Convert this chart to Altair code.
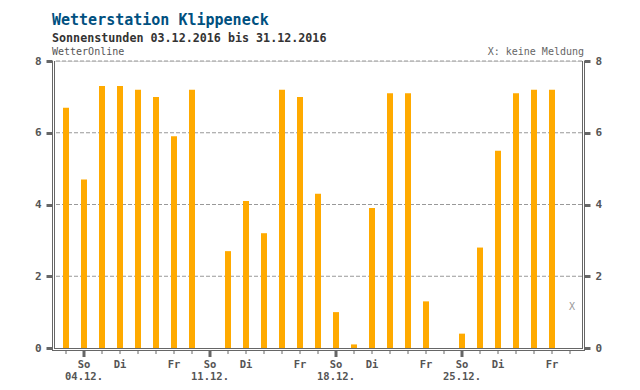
import altair as alt
import pandas as pd

# ---- data ----
days = list(range(3, 32))
sunshine = [6.7, 4.7, 7.3, 7.3, 7.2, 7.0, 5.9, 7.2, 0.0, 2.7, 4.1, 3.2, 7.2, 7.0,
            4.3, 1.0, 0.1, 3.9, 7.1, 7.1, 1.3, 0.0, 0.4, 2.8, 5.5, 7.1, 7.2, 7.2, None]
grid_values = [2, 4, 6, 8]
y_ticks = [0, 2, 4, 6, 8]
weekday_days = [4, 6, 9, 11, 13, 16, 18, 20, 23, 25, 27, 30]
weekday_labels = ["So", "Di", "Fr", "So", "Di", "Fr", "So", "Di", "Fr", "So", "Di", "Fr"]
sunday_days = [4, 11, 18, 25]
sunday_labels = ["04.12.", "11.12.", "18.12.", "25.12."]
missing_days = [31]

title_text = "Wetterstation Klippeneck"
subtitle_text = "Sonnenstunden 03.12.2016 bis 31.12.2016"
source_text = "WetterOnline"
legend_text = "X: keine Meldung"

FONT = "DejaVu Sans Mono"
GRAY = "#666666"
LABEL = "#555555"

W, H = 528, 287

df = pd.DataFrame({"day": days, "sun": sunshine})
df_grid = pd.DataFrame({"v": grid_values})
df_days = pd.DataFrame({"day": days})
df_sun = pd.DataFrame({"day": sunday_days, "lab": sunday_labels})
df_wd = pd.DataFrame({"day": weekday_days, "lab": weekday_labels})
df_miss = pd.DataFrame({"day": missing_days, "t": ["X"] * len(missing_days)})

xscale = alt.Scale(domain=[2 + 1 / 3, 31 + 2 / 3], nice=False, zero=False, padding=0)
yscale = alt.Scale(domain=[0, 8], nice=False, zero=True, padding=0)


def yaxis(orient):
    return alt.Axis(orient=orient, values=y_ticks, offset=2, domain=False,
                    tickSize=6, tickWidth=3, tickColor=GRAY, grid=False,
                    labelFont=FONT, labelFontSize=11, labelFontWeight="bold",
                    labelColor=LABEL, labelPadding=5, title=None)


bars = alt.Chart(df).mark_bar(size=6, color="#FFAA00").encode(
    x=alt.X("day:Q", scale=xscale, axis=None),
    y=alt.Y("sun:Q", scale=yscale, axis=yaxis("left")),
)

grid = alt.Chart(df_grid).mark_rule(color="#999999", strokeDash=[4, 2], strokeWidth=1).encode(
    y=alt.Y("v:Q", scale=yscale, axis=yaxis("right")),
)


def frame_line(x1, x2, y1, y2):
    return alt.Chart(df_grid).mark_rule(color=GRAY, strokeWidth=1).encode(
        x=alt.value(x1), x2=alt.value(x2), y=alt.value(y1), y2=alt.value(y2))


frame = [
    frame_line(-1.5, -1.5, 0, H + 2.5),        # outer left
    frame_line(0.5, 0.5, 0, H + 0.5),          # inner left
    frame_line(W + 0.5, W + 0.5, 0, H + 0.5),  # inner right
    frame_line(W + 2.5, W + 2.5, 0, H + 2.5),  # outer right
    frame_line(0.5, W + 0.5, H + 0.5, H + 0.5),    # inner bottom
    frame_line(-1.5, W + 3, H + 2.5, H + 2.5),     # outer bottom
]

minor_ticks = alt.Chart(df_days).mark_rule(color=GRAY, strokeWidth=1).encode(
    x=alt.X("day:Q", scale=xscale, axis=None),
    y=alt.value(H + 3), y2=alt.value(H + 6),
)
major_ticks = alt.Chart(df_sun).mark_rule(color=GRAY, strokeWidth=3).encode(
    x=alt.X("day:Q", scale=xscale, axis=None),
    y=alt.value(H + 3), y2=alt.value(H + 9),
)

wd_text = alt.Chart(df_wd).mark_text(font=FONT, fontSize=10.5, fontWeight="bold",
                                     color=LABEL, baseline="alphabetic", align="center").encode(
    x=alt.X("day:Q", scale=xscale, axis=None), y=alt.value(H + 19.5), text="lab:N")
date_text = alt.Chart(df_sun).mark_text(font=FONT, fontSize=10.5, fontWeight="bold",
                                        color=LABEL, baseline="alphabetic", align="center").encode(
    x=alt.X("day:Q", scale=xscale, axis=None), y=alt.value(H + 31.5), text="lab:N")

miss_text = alt.Chart(df_miss).mark_text(font=FONT, fontSize=10, color="#999999",
                                         baseline="middle", align="center", dx=2).encode(
    x=alt.X("day:Q", scale=xscale, axis=None), y=alt.value(H - 41), text="t:N")


def header(txt, x, y, size, color, weight="normal", align="left"):
    return alt.Chart(pd.DataFrame({"t": [txt]})).mark_text(
        font=FONT, fontSize=size, fontWeight=weight, color=color,
        baseline="alphabetic", align=align).encode(
        x=alt.value(x), y=alt.value(y), text="t:N")


headers = [
    header(title_text, -2, -36, 15, "#00507F", "bold"),
    header(subtitle_text, -2, -19.5, 11.7, "#333333", "bold"),
    header(source_text, -2, -6, 10, LABEL),
    header(legend_text, W + 2, -6, 10, GRAY, align="right"),
]

chart = alt.layer(
    grid, bars, *frame, minor_ticks, major_ticks, wd_text, date_text, miss_text, *headers
).resolve_axis(y="independent").properties(
    width=W, height=H,
    padding={"left": 46, "top": 53, "right": 50, "bottom": 34},
    autosize=alt.AutoSizeParams(type="none"),
).configure_view(stroke=None).configure(background="white")

chart.save("out.html", embed_options={"renderer": "svg", "actions": False})
